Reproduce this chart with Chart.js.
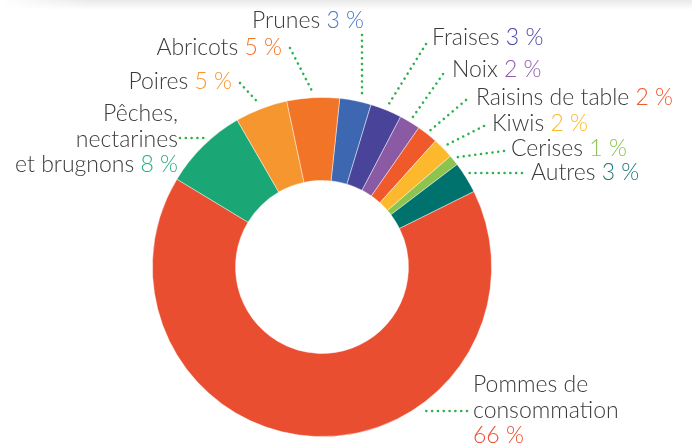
<!DOCTYPE html>
<html lang="fr">
<head>
<meta charset="utf-8">
<title>Répartition des fruits</title>
<script src="https://cdn.jsdelivr.net/npm/chart.js@4"></script>
<style>
  html, body { margin: 0; padding: 0; background: #fff; }
  #wrap { position: relative; width: 692px; height: 445px; overflow: hidden; }
  #shade { position: absolute; left: 0; top: 0; width: 692px; height: 10px;
    background: linear-gradient(to bottom, rgba(0,0,0,0.085), rgba(0,0,0,0));
    -webkit-mask-image: linear-gradient(to right, rgba(0,0,0,0) 0, #000 90px);
    mask-image: linear-gradient(to right, rgba(0,0,0,0) 0, #000 90px); }
</style>
</head>
<body>
<div id="wrap">
  <canvas id="fruits" width="692" height="445"></canvas>
  <div id="shade"></div>
</div>
<script>
// données (parts en %)
const categories = ['Prunes', 'Fraises', 'Noix', 'Raisins de table', 'Kiwis', 'Cerises', 'Autres',
  'Pommes de consommation', 'Pêches, nectarines et brugnons', 'Poires', 'Abricots'];
const shares = [3, 3, 2, 2, 2, 1, 3, 66, 8, 5, 5];

const sliceColors = ['#3d68b1', '#494399', '#8a5aa4', '#f05a2b', '#fdb92d', '#8cc44d', '#00726e',
  '#e94e30', '#1aa775', '#f6962f', '#f27427'];
const pctColors = ['#4b78c2', '#4b4aa3', '#8f5db2', '#f05a2b', '#fdb92d', '#8cc44d', '#1b7b78',
  '#e94e30', '#2aae7c', '#f6962f', '#f27427'];

// mise en page des étiquettes (lignes de texte, ancre, départ du pointillé)
const labelLayout = [
  { lines: ['Prunes'], x: 364, y: 28, align: 'right', lx: 362, ly: 35, mode: 'v' },
  { lines: ['Fraises'], x: 432, y: 45, align: 'left', lx: 426, ly: 44, mode: 'mid' },
  { lines: ['Noix'], x: 452, y: 77, align: 'left', lx: 443, ly: 74, mode: 'mid' },
  { lines: ['Raisins de table'], x: 476, y: 105, align: 'left', lx: 466, ly: 100, mode: 'mid' },
  { lines: ['Kiwis'], x: 492, y: 131, align: 'left', lx: 484, ly: 126, mode: 'mid' },
  { lines: ['Cerises'], x: 511, y: 156, align: 'left', lx: 504, ly: 151, mode: 'mid' },
  { lines: ['Autres'], x: 531, y: 180, align: 'left', lx: 522, ly: 173, mode: 'h' },
  { lines: ['Pommes de', 'consommation'], pctOwnLine: true, x: 473, y: 392, align: 'left', lx: 467, ly: 411, mode: 'h' },
  { lines: ['Pêches,', 'nectarines', 'et brugnons'], x: 178, y: 121, align: 'right', lx: 180, ly: 138, mode: 'h' },
  { lines: ['Poires'], x: 232, y: 89, align: 'right', lx: 240, ly: 83, mode: 'mid' },
  { lines: ['Abricots'], x: 282, y: 55, align: 'right', lx: 290, ly: 48, mode: 'mid' }
];

const FONT = '300 23px Lato, "Open Sans", sans-serif';
const LINE_H = 25.5;

const calloutPlugin = {
  id: 'callouts',
  afterDatasetsDraw(chart) {
    const ctx = chart.ctx;
    const arcs = chart.getDatasetMeta(0).data;
    ctx.save();
    arcs.forEach((arc, i) => {
      const p = arc.getProps(['x', 'y', 'startAngle', 'endAngle', 'outerRadius'], true);
      const lay = labelLayout[i];
      const R = p.outerRadius + 5;
      let ex, ey;
      if (lay.mode === 'h') {
        const dy = lay.ly - p.y;
        ey = lay.ly;
        ex = p.x + (lay.lx > p.x ? 1 : -1) * Math.sqrt(R * R - dy * dy);
      } else if (lay.mode === 'v') {
        const dx = lay.lx - p.x;
        ex = lay.lx;
        ey = p.y + (lay.ly < p.y ? -1 : 1) * Math.sqrt(R * R - dx * dx);
      } else {
        const a = (p.startAngle + p.endAngle) / 2;
        ex = p.x + R * Math.cos(a);
        ey = p.y + R * Math.sin(a);
      }
      // pointillé vert
      ctx.beginPath();
      ctx.setLineDash([0.01, 5.8]);
      ctx.lineCap = 'round';
      ctx.lineWidth = 2.6;
      ctx.strokeStyle = '#2bb24c';
      ctx.moveTo(lay.lx, lay.ly);
      ctx.lineTo(ex, ey);
      ctx.stroke();
      ctx.setLineDash([]);

      // texte
      ctx.font = FONT;
      ctx.textBaseline = 'alphabetic';
      ctx.textAlign = 'left';
      const pct = shares[i] + ' %';
      const rows = lay.lines.map(t => [{ t: t, c: '#3b3b3b' }]);
      if (lay.pctOwnLine) rows.push([{ t: pct, c: pctColors[i] }]);
      else rows[rows.length - 1].push({ t: ' ' + pct, c: pctColors[i] });
      rows.forEach((row, r) => {
        const w = row.reduce((s, seg) => s + ctx.measureText(seg.t).width, 0);
        let x = lay.align === 'right' ? lay.x - w : lay.x;
        const y = lay.y + r * LINE_H;
        row.forEach(seg => {
          ctx.fillStyle = seg.c;
          ctx.fillText(seg.t, x, y);
          x += ctx.measureText(seg.t).width;
        });
      });
    });
    ctx.restore();
  }
};

new Chart('fruits', {
  type: 'doughnut',
  data: {
    labels: categories,
    datasets: [{
      data: shares,
      backgroundColor: sliceColors,
      borderColor: 'rgba(255,255,255,0.55)',
      borderWidth: 0.8,
      hoverOffset: 0
    }]
  },
  options: {
    responsive: false,
    devicePixelRatio: 1,
    animation: false,
    rotation: 6,
    cutout: '51%',
    layout: { padding: { left: 152, right: 200, top: 97, bottom: 8 } },
    plugins: {
      legend: { display: false },
      tooltip: { enabled: false }
    }
  },
  plugins: [calloutPlugin]
});
</script>
</body>
</html>
